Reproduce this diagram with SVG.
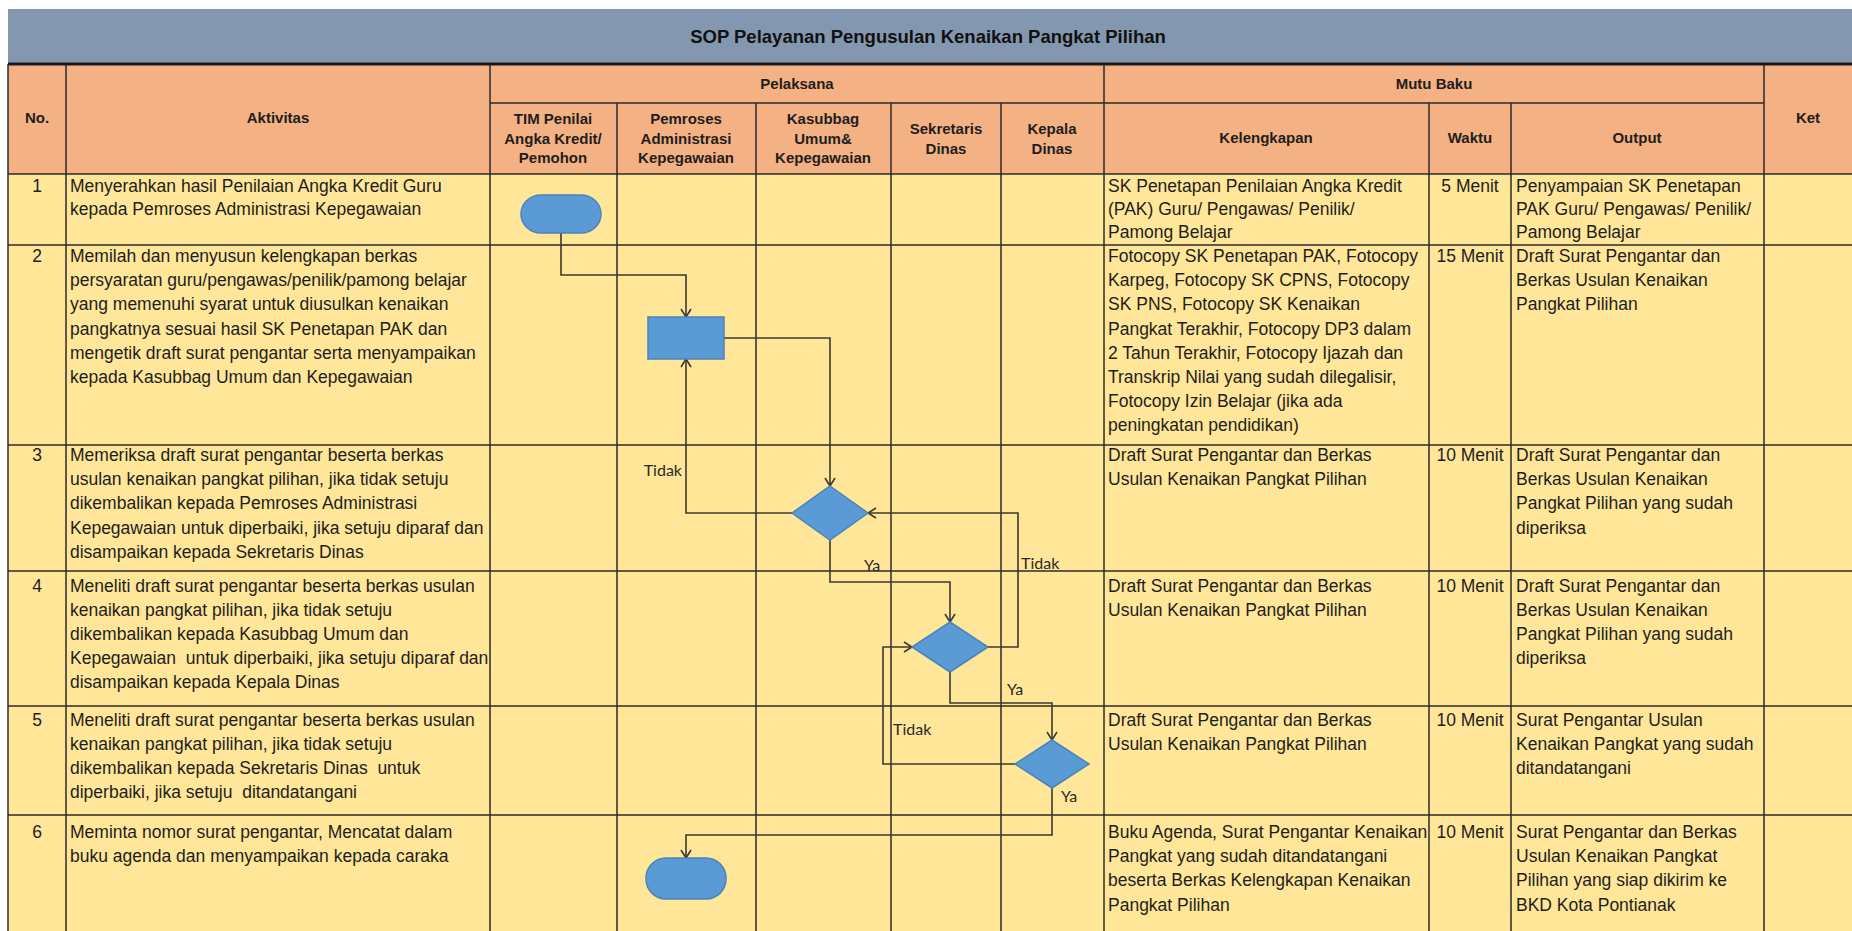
<svg xmlns="http://www.w3.org/2000/svg" width="1852" height="931" viewBox="0 0 1852 931">
<defs>
<style>
.t{font-family:"Liberation Sans",Arial,sans-serif;font-size:17.5px;fill:#1e1e1e;white-space:pre}
.m{text-anchor:middle}
.h{font-family:"Liberation Sans",Arial,sans-serif;font-size:15px;font-weight:bold;fill:#1e1e1e;text-anchor:middle}
.ttl{font-family:"Liberation Sans",Arial,sans-serif;font-size:18.5px;font-weight:bold;fill:#111;text-anchor:middle}
.grid line{stroke:#2a2a2a;stroke-width:1.5}
.conn path{fill:none;stroke:#3a3a2e;stroke-width:1.6}
.shape{fill:#5B9BD5;stroke:#4a84bb;stroke-width:1.5}
.lbl{font-family:Lato,"Liberation Sans",sans-serif;font-size:16px;fill:#2a2a2a}
</style>
<marker id="arr" viewBox="0 0 10 12" refX="9" refY="6" markerWidth="10" markerHeight="12" markerUnits="userSpaceOnUse" orient="auto">
<path d="M1,1 L9,6 L1,11" fill="none" stroke="#3a3a2e" stroke-width="1.6"/>
</marker>
</defs>
<rect x="0" y="0" width="1852" height="931" fill="#ffffff"/>
<g id="backgrounds">
<rect x="8" y="9" width="1844" height="55" fill="#8497B0"/>
<rect x="8" y="64" width="1844" height="110" fill="#F4B183"/>
<rect x="8" y="174" width="1844" height="757" fill="#FFE699"/>
</g>
<g id="grid" class="grid">
<line x1="490" y1="103" x2="1764" y2="103"/>
<line x1="8" y1="174" x2="1852" y2="174"/>
<line x1="8" y1="245" x2="1852" y2="245"/>
<line x1="8" y1="445" x2="1852" y2="445"/>
<line x1="8" y1="571" x2="1852" y2="571"/>
<line x1="8" y1="706" x2="1852" y2="706"/>
<line x1="8" y1="815" x2="1852" y2="815"/>
<line x1="8" y1="64" x2="8" y2="931"/>
<line x1="66" y1="64" x2="66" y2="931"/>
<line x1="490" y1="64" x2="490" y2="931"/>
<line x1="617" y1="103" x2="617" y2="931"/>
<line x1="756" y1="103" x2="756" y2="931"/>
<line x1="891" y1="103" x2="891" y2="931"/>
<line x1="1001" y1="103" x2="1001" y2="931"/>
<line x1="1104" y1="64" x2="1104" y2="931"/>
<line x1="1429" y1="103" x2="1429" y2="931"/>
<line x1="1511" y1="103" x2="1511" y2="931"/>
<line x1="1764" y1="64" x2="1764" y2="931"/>
<line x1="8" y1="64" x2="1852" y2="64" style="stroke:#1a1a1a;stroke-width:3"/>
</g>
<g id="title">
<text class="ttl" x="928" y="43">SOP Pelayanan Pengusulan Kenaikan Pangkat Pilihan</text>
</g>
<g id="header">
<text class="h" x="37" y="123">No.</text>
<text class="h" x="278" y="123">Aktivitas</text>
<text class="h" x="797" y="89">Pelaksana</text>
<text class="h" x="1434" y="89">Mutu Baku</text>
<text class="h" x="1808" y="123">Ket</text>
<text class="h" x="553" y="124">TIM Penilai<tspan x="553" dy="19.5">Angka Kredit/</tspan><tspan x="553" dy="19.5">Pemohon</tspan></text>
<text class="h" x="686" y="124">Pemroses<tspan x="686" dy="19.5">Administrasi</tspan><tspan x="686" dy="19.5">Kepegawaian</tspan></text>
<text class="h" x="823" y="124">Kasubbag<tspan x="823" dy="19.5">Umum&amp;</tspan><tspan x="823" dy="19.5">Kepegawaian</tspan></text>
<text class="h" x="946" y="134">Sekretaris<tspan x="946" dy="19.5">Dinas</tspan></text>
<text class="h" x="1052" y="134">Kepala<tspan x="1052" dy="19.5">Dinas</tspan></text>
<text class="h" x="1266" y="143">Kelengkapan</text>
<text class="h" x="1470" y="143">Waktu</text>
<text class="h" x="1637" y="143">Output</text>
</g>
<g id="row1">
<text class="t m" x="37" y="191.5">1</text>
<text class="t" x="70" y="191.5">Menyerahkan hasil Penilaian Angka Kredit Guru<tspan x="70" dy="23">kepada Pemroses Administrasi Kepegawaian</tspan></text>
<text class="t" x="1108" y="191.5">SK Penetapan Penilaian Angka Kredit<tspan x="1108" dy="23">(PAK) Guru/ Pengawas/ Penilik/</tspan><tspan x="1108" dy="23">Pamong Belajar</tspan></text>
<text class="t m" x="1470" y="191.5">5 Menit</text>
<text class="t" x="1516" y="191.5">Penyampaian SK Penetapan<tspan x="1516" dy="23">PAK Guru/ Pengawas/ Penilik/</tspan><tspan x="1516" dy="23">Pamong Belajar</tspan></text>
</g>
<g id="row2">
<text class="t m" x="37" y="262">2</text>
<text class="t" x="70" y="262">Memilah dan menyusun kelengkapan berkas<tspan x="70" dy="24.2">persyaratan guru/pengawas/penilik/pamong belajar</tspan><tspan x="70" dy="24.2">yang memenuhi syarat untuk diusulkan kenaikan</tspan><tspan x="70" dy="24.2">pangkatnya sesuai hasil SK Penetapan PAK dan</tspan><tspan x="70" dy="24.2">mengetik draft surat pengantar serta menyampaikan</tspan><tspan x="70" dy="24.2">kepada Kasubbag Umum dan Kepegawaian</tspan></text>
<text class="t" x="1108" y="262">Fotocopy SK Penetapan PAK, Fotocopy<tspan x="1108" dy="24.2">Karpeg, Fotocopy SK CPNS, Fotocopy</tspan><tspan x="1108" dy="24.2">SK PNS, Fotocopy SK Kenaikan</tspan><tspan x="1108" dy="24.2">Pangkat Terakhir, Fotocopy DP3 dalam</tspan><tspan x="1108" dy="24.2">2 Tahun Terakhir, Fotocopy Ijazah dan</tspan><tspan x="1108" dy="24.2">Transkrip Nilai yang sudah dilegalisir,</tspan><tspan x="1108" dy="24.2">Fotocopy Izin Belajar (jika ada</tspan><tspan x="1108" dy="24.2">peningkatan pendidikan)</tspan></text>
<text class="t m" x="1470" y="262">15 Menit</text>
<text class="t" x="1516" y="262">Draft Surat Pengantar dan<tspan x="1516" dy="24.2">Berkas Usulan Kenaikan</tspan><tspan x="1516" dy="24.2">Pangkat Pilihan</tspan></text>
</g>
<g id="row3">
<text class="t m" x="37" y="461">3</text>
<text class="t" x="70" y="461">Memeriksa draft surat pengantar beserta berkas<tspan x="70" dy="24.2">usulan kenaikan pangkat pilihan, jika tidak setuju</tspan><tspan x="70" dy="24.2">dikembalikan kepada Pemroses Administrasi</tspan><tspan x="70" dy="24.2">Kepegawaian untuk diperbaiki, jika setuju diparaf dan</tspan><tspan x="70" dy="24.2">disampaikan kepada Sekretaris Dinas</tspan></text>
<text class="t" x="1108" y="461">Draft Surat Pengantar dan Berkas<tspan x="1108" dy="24.2">Usulan Kenaikan Pangkat Pilihan</tspan></text>
<text class="t m" x="1470" y="461">10 Menit</text>
<text class="t" x="1516" y="461">Draft Surat Pengantar dan<tspan x="1516" dy="24.2">Berkas Usulan Kenaikan</tspan><tspan x="1516" dy="24.2">Pangkat Pilihan yang sudah</tspan><tspan x="1516" dy="24.2">diperiksa</tspan></text>
</g>
<g id="row4">
<text class="t m" x="37" y="591.5">4</text>
<text class="t" x="70" y="591.5">Meneliti draft surat pengantar beserta berkas usulan<tspan x="70" dy="24.2">kenaikan pangkat pilihan, jika tidak setuju</tspan><tspan x="70" dy="24.2">dikembalikan kepada Kasubbag Umum dan</tspan><tspan x="70" dy="24.2">Kepegawaian  untuk diperbaiki, jika setuju diparaf dan</tspan><tspan x="70" dy="24.2">disampaikan kepada Kepala Dinas</tspan></text>
<text class="t" x="1108" y="591.5">Draft Surat Pengantar dan Berkas<tspan x="1108" dy="24.2">Usulan Kenaikan Pangkat Pilihan</tspan></text>
<text class="t m" x="1470" y="591.5">10 Menit</text>
<text class="t" x="1516" y="591.5">Draft Surat Pengantar dan<tspan x="1516" dy="24.2">Berkas Usulan Kenaikan</tspan><tspan x="1516" dy="24.2">Pangkat Pilihan yang sudah</tspan><tspan x="1516" dy="24.2">diperiksa</tspan></text>
</g>
<g id="row5">
<text class="t m" x="37" y="725.5">5</text>
<text class="t" x="70" y="725.5">Meneliti draft surat pengantar beserta berkas usulan<tspan x="70" dy="24.2">kenaikan pangkat pilihan, jika tidak setuju</tspan><tspan x="70" dy="24.2">dikembalikan kepada Sekretaris Dinas  untuk</tspan><tspan x="70" dy="24.2">diperbaiki, jika setuju  ditandatangani</tspan></text>
<text class="t" x="1108" y="725.5">Draft Surat Pengantar dan Berkas<tspan x="1108" dy="24.2">Usulan Kenaikan Pangkat Pilihan</tspan></text>
<text class="t m" x="1470" y="725.5">10 Menit</text>
<text class="t" x="1516" y="725.5">Surat Pengantar Usulan<tspan x="1516" dy="24.2">Kenaikan Pangkat yang sudah</tspan><tspan x="1516" dy="24.2">ditandatangani</tspan></text>
</g>
<g id="row6">
<text class="t m" x="37" y="838">6</text>
<text class="t" x="70" y="838">Meminta nomor surat pengantar, Mencatat dalam<tspan x="70" dy="24.2">buku agenda dan menyampaikan kepada caraka</tspan></text>
<text class="t" x="1108" y="838">Buku Agenda, Surat Pengantar Kenaikan<tspan x="1108" dy="24.2">Pangkat yang sudah ditandatangani</tspan><tspan x="1108" dy="24.2">beserta Berkas Kelengkapan Kenaikan</tspan><tspan x="1108" dy="24.2">Pangkat Pilihan</tspan></text>
<text class="t m" x="1470" y="838">10 Menit</text>
<text class="t" x="1516" y="838">Surat Pengantar dan Berkas<tspan x="1516" dy="24.2">Usulan Kenaikan Pangkat</tspan><tspan x="1516" dy="24.2">Pilihan yang siap dikirim ke</tspan><tspan x="1516" dy="24.2">BKD Kota Pontianak</tspan></text>
</g>
<g id="connectors" class="conn">
<path d="M561,233 V275 H686 V317" marker-end="url(#arr)"/>
<path d="M724,338 H830 V486" marker-end="url(#arr)"/>
<path d="M792,513 H686 V359" marker-end="url(#arr)"/>
<path d="M830,540 V582 H950 V622" marker-end="url(#arr)"/>
<path d="M988,647 H1018 V513 H868" marker-end="url(#arr)"/>
<path d="M950,672 V703 H1052 V740" marker-end="url(#arr)"/>
<path d="M1015,764 H883 V647 H912" marker-end="url(#arr)"/>
<path d="M1052,788 V835 H686 V858" marker-end="url(#arr)"/>
<text class="lbl" x="682" y="476" text-anchor="end">Tidak</text>
<text class="lbl" x="864" y="571">Ya</text>
<text class="lbl" x="1021" y="569">Tidak</text>
<text class="lbl" x="1007" y="695">Ya</text>
<text class="lbl" x="893" y="735">Tidak</text>
<text class="lbl" x="1061" y="802">Ya</text>
</g>
<g id="n1"><rect class="shape" x="521" y="195" width="80" height="38" rx="20" ry="19"/></g>
<g id="n2"><rect class="shape" x="648" y="317" width="76" height="42"/></g>
<g id="n3"><polygon class="shape" points="830,486 868,513 830,540 792,513"/></g>
<g id="n4"><polygon class="shape" points="950,622 988,647 950,672 912,647"/></g>
<g id="n5"><polygon class="shape" points="1052,740 1089,764 1052,788 1015,764"/></g>
<g id="n6"><rect class="shape" x="646" y="858" width="80" height="41" rx="20" ry="20"/></g>
</svg>
